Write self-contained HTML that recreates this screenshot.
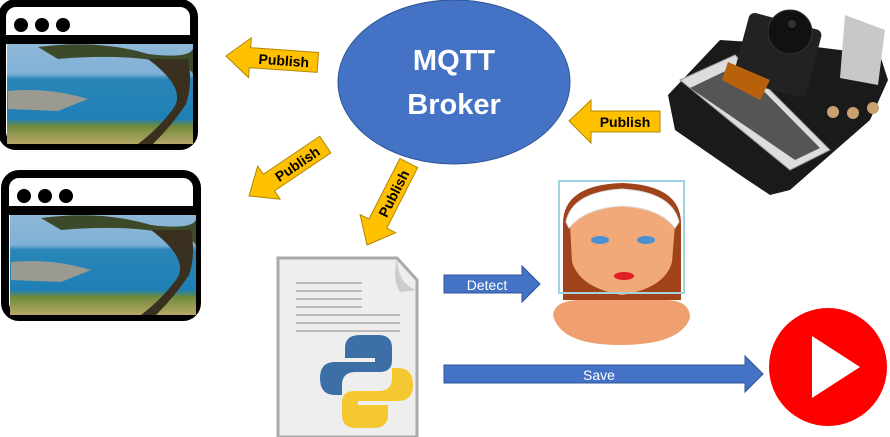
<!DOCTYPE html>
<html><head><meta charset="utf-8"><style>
html,body{margin:0;padding:0;background:#fff;}
svg{display:block;font-family:"Liberation Sans",sans-serif;}
</style></head><body>
<svg width="890" height="437" viewBox="0 0 890 437" xmlns="http://www.w3.org/2000/svg">
<defs>
<linearGradient id="ph" x1="0" y1="0" x2="0" y2="1">
<stop offset="0" stop-color="#8fb8d8"/><stop offset="0.3" stop-color="#7fb0d6"/>
<stop offset="0.35" stop-color="#2a86b8"/><stop offset="0.75" stop-color="#1f7fb5"/>
<stop offset="0.82" stop-color="#6f8a3a"/><stop offset="1" stop-color="#b8a86a"/>
</linearGradient>
<g id="win">
<rect x="4" y="4" width="192" height="143" rx="14" fill="#fff" stroke="#000" stroke-width="8"/>
<rect x="8" y="36" width="186" height="9" fill="#000"/>
<circle cx="23" cy="26" r="7"/><circle cx="44" cy="26" r="7"/><circle cx="65" cy="26" r="7"/>
<rect x="9" y="45" width="186" height="100" fill="url(#ph)"/>
<path d="M40 48 Q100 40 150 55 Q190 60 195 50 L195 75 Q185 60 160 62 Q120 55 60 60 Z" fill="#3d4a2a"/>
<path d="M150 60 Q190 90 175 110 Q160 130 140 145 L155 145 Q175 125 188 105 Q195 85 190 60 Z" fill="#3a3020"/>
<path d="M10 92 Q50 88 90 100 L60 112 L10 110 Z" fill="#9a9a90"/>
</g>
<g id="pub">
<polygon points="0,0 24,-20 24,-10 92,-10 92,10 24,10 24,20" fill="#ffc000" stroke="#b08800" stroke-width="1"/>
<text x="58" y="5.5" font-size="14" font-weight="bold" text-anchor="middle" fill="#000">Publish</text>
</g>
</defs>

<use href="#win" x="-2" y="-1"/>
<use href="#win" x="1" y="170"/>

<ellipse cx="454" cy="82" rx="116" ry="82" fill="#4472c4" stroke="#2f5597" stroke-width="1"/>
<text x="454" y="70" font-size="29" font-weight="bold" fill="#fff" text-anchor="middle">MQTT</text>
<text x="454" y="114" font-size="29" font-weight="bold" fill="#fff" text-anchor="middle">Broker</text>

<g transform="translate(226,56) rotate(4)"><use href="#pub"/></g>
<g transform="translate(249,196) rotate(-34)"><use href="#pub"/></g>
<g transform="translate(367,245) rotate(-63)"><use href="#pub"/></g>
<g transform="translate(569,121)"><polygon points="0,0 22,-21 22,-10 91,-10 91,11 22,11 22,22" fill="#ffc000" stroke="#b08800"/><text x="56" y="6" font-size="14" font-weight="bold" text-anchor="middle">Publish</text></g>

<!-- camera board -->
<g>
<path d="M668 95 L720 40 L800 45 L880 55 L888 80 L870 120 L790 190 L770 195 L740 175 L675 130 Z" fill="#1a1a1a"/>
<path d="M680 80 L735 55 L830 150 L790 170 Z" fill="#ddd" stroke="#999"/>
<path d="M690 88 L738 65 L820 148 L795 160 Z" fill="#555"/>
<rect x="740" y="20" width="75" height="70" rx="6" fill="#222" transform="rotate(15 777 55)"/>
<circle cx="790" cy="32" r="22" fill="#111" stroke="#333"/>
<circle cx="792" cy="24" r="4" fill="#333"/>
<path d="M845 15 L885 30 L878 85 L840 78 Z" fill="#c8c8c8"/>
<path d="M728 62 L770 80 L760 100 L722 80 Z" fill="#b8600a"/>
<circle cx="833" cy="112" r="6" fill="#c9a070"/><circle cx="853" cy="113" r="6" fill="#c9a070"/><circle cx="873" cy="108" r="6" fill="#c9a070"/>
</g>

<!-- face -->
<g>
<path d="M553 315 Q555 300 580 300 L665 300 Q690 300 690 318 Q680 345 620 345 Q560 345 553 315 Z" fill="#f0a070"/>
<path d="M563 300 L563 225 Q562 185 622 183 Q682 185 681 225 L681 300 Z" fill="#a0421a"/>
<path d="M570 225 Q572 205 622 200 Q672 205 675 225 L672 262 Q665 288 622 295 Q580 288 572 262 Z" fill="#f2a97a"/>
<path d="M566 222 Q572 192 622 189 Q672 192 679 222 L675 228 Q660 208 622 206 Q585 208 569 228 Z" fill="#fff" stroke="#ddd"/>
<ellipse cx="600" cy="240" rx="9" ry="4" fill="#4a90d0"/><ellipse cx="646" cy="240" rx="9" ry="4" fill="#4a90d0"/>
<ellipse cx="624" cy="276" rx="10" ry="4" fill="#e02020"/>
<rect x="559" y="181" width="125" height="112" fill="none" stroke="#9fd3e0" stroke-width="2"/>
</g>

<!-- document -->
<g>
<path d="M278 258 L397 258 L417 280 L417 437 L278 437 Z" fill="#eee" stroke="#aaa" stroke-width="3"/>
<path d="M397 258 Q398 285 417 290 L400 292 Q392 280 397 258 Z" fill="#ccc"/>
<g stroke="#bbb" stroke-width="2">
<line x1="296" y1="283" x2="362" y2="283"/><line x1="296" y1="291" x2="362" y2="291"/><line x1="296" y1="299" x2="362" y2="299"/><line x1="296" y1="307" x2="362" y2="307"/><line x1="296" y1="315" x2="400" y2="315"/><line x1="296" y1="323" x2="400" y2="323"/><line x1="296" y1="331" x2="400" y2="331"/>
</g>
<path d="M360 335 Q345 335 345 348 L345 358 L375 358 L375 362 L335 362 Q320 362 320 378 Q320 395 335 395 L342 395 L342 385 Q342 372 356 372 L380 372 Q392 372 392 360 L392 348 Q392 335 378 335 Z" fill="#3c6fa5"/>
<path d="M373 428 Q388 428 388 415 L388 405 L358 405 L358 401 L398 401 Q413 401 413 385 Q413 368 398 368 L392 368 L392 378 Q392 391 378 391 L354 391 Q342 391 342 403 L342 415 Q342 428 356 428 Z" fill="#f5c832"/>
</g>

<!-- Detect / Save arrows -->
<polygon points="444,275 522,275 522,266 540,284 522,302 522,293 444,293" fill="#4472c4" stroke="#2f5597"/>
<text x="487" y="290" font-size="14" fill="#fff" text-anchor="middle">Detect</text>
<polygon points="444,365 745,365 745,356 763,374 745,392 745,383 444,383" fill="#4472c4" stroke="#2f5597"/>
<text x="599" y="380" font-size="14" fill="#fff" text-anchor="middle">Save</text>

<!-- youtube -->
<circle cx="828" cy="367" r="59" fill="#ff0000"/>
<polygon points="812,336 812,398 860,367" fill="#fff"/>
</svg>
</body></html>
